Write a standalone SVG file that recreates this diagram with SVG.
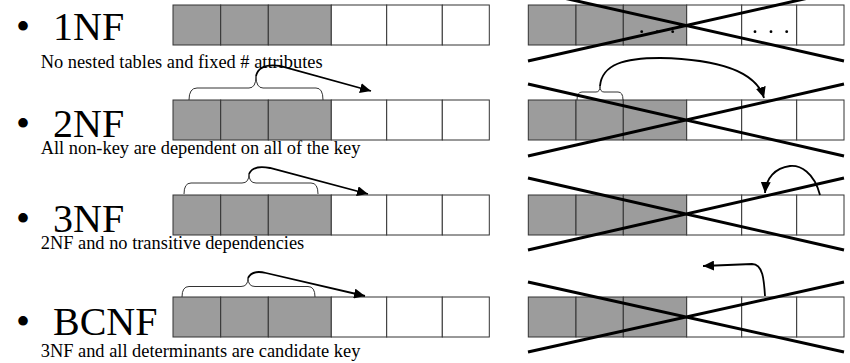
<svg xmlns="http://www.w3.org/2000/svg" width="850" height="363" viewBox="0 0 850 363">
<style>
.t{font-family:"Liberation Serif","Times New Roman",serif;fill:#000}
.big{font-size:40px}
.sub{font-size:18.4px}
.k{fill:#9c9c9c;stroke:#333;stroke-width:1}
.v{fill:#fff;stroke:#333;stroke-width:1}
.x{stroke:#000;stroke-width:3;fill:none}
.br{fill:none;stroke:#333;stroke-width:1}
.ar{fill:none;stroke:#000;stroke-width:1.8}
</style>
<defs>
<marker id="ah" markerUnits="userSpaceOnUse" markerWidth="12" markerHeight="10" refX="11" refY="5" orient="auto">
<path d="M0,0 L11,5 L0,10 z" fill="#000"/>
</marker>
<g id="tblL">
<rect class="k" x="173" y="0" width="47.7" height="40"/>
<rect class="k" x="220.7" y="0" width="47.6" height="40"/>
<rect class="k" x="268.3" y="0" width="63" height="40"/>
<rect class="v" x="331.3" y="0" width="55.4" height="40"/>
<rect class="v" x="386.7" y="0" width="55.6" height="40"/>
<rect class="v" x="442.3" y="0" width="47" height="40"/>
</g>
<g id="tblR">
<rect class="k" x="528.3" y="0" width="47.7" height="40"/>
<rect class="k" x="576" y="0" width="47.3" height="40"/>
<rect class="k" x="623.3" y="0" width="63.4" height="40"/>
<rect class="v" x="686.7" y="0" width="55" height="40"/>
<rect class="v" x="741.7" y="0" width="55" height="40"/>
<rect class="v" x="796.7" y="0" width="47.3" height="40"/>
</g>
</defs>
<rect width="850" height="363" fill="#fff"/>

<g id="row-1nf">
<text class="t big" y="40"><tspan x="16">•</tspan><tspan x="53">1NF</tspan></text>
<text class="t sub" x="40.7" y="68">No nested tables and fixed # attributes</text>
<use href="#tblL" y="5"/>
</g>
<g id="row-2nf">
<text class="t big" y="136.7"><tspan x="16">•</tspan><tspan x="53">2NF</tspan></text>
<text class="t sub" x="40.7" y="154">All non-key are dependent on all of the key</text>
<use href="#tblL" y="100"/>
<path class="br" d="M189,100 Q189,88 197,88 L249,88 Q256,88 256,76 Q256,88 263,88 L316,88 Q323,88 323,100"/>
</g>
<g id="row-3nf">
<text class="t big" y="231.7"><tspan x="16">•</tspan><tspan x="53">3NF</tspan></text>
<text class="t sub" x="40.7" y="248.5">2NF and no transitive dependencies</text>
<use href="#tblL" y="195"/>
<path class="br" d="M184,194 Q184,183 191,183 L242,183 Q249,183 249,174 Q249,183 256,183 L311,183 Q318,183 318,194"/>
</g>
<g id="row-bcnf">
<text class="t big" y="335"><tspan x="16">•</tspan><tspan x="53">BCNF</tspan></text>
<text class="t sub" x="40.7" y="356.5">3NF and all determinants are candidate key</text>
<use href="#tblL" y="297"/>
<path class="br" d="M182,297 Q182,286.5 189,286.5 L241,286.5 Q248,286.5 248,278 Q248,286.5 255,286.5 L308,286.5 Q315,286.5 315,297"/>
</g>

<g id="bad-1">
<use href="#tblR" y="5"/>
<circle cx="641.7" cy="31.7" r="1.4"/>
<circle cx="657.2" cy="31.7" r="1.4"/>
<circle cx="672.7" cy="31.7" r="1.4"/>
<circle cx="755" cy="31.7" r="1.4"/>
<circle cx="771" cy="31.7" r="1.4"/>
<circle cx="786.7" cy="31.7" r="1.4"/>
<path class="x" d="M528,-10 L844,61 M528,61 L844,-10"/>
</g>
<g id="bad-2">
<use href="#tblR" y="100"/>
<path class="br" d="M577,100 Q577,92 582,92 L596,92 Q600,92 600,86 Q600,92 604,92 L618,92 Q623,92 623,100"/>
<path class="x" d="M528,84 L844,156 M528,156 L844,84"/>
</g>
<g id="bad-3">
<use href="#tblR" y="195"/>
<path class="x" d="M528,178 L844,250 M528,250 L844,178"/>
</g>
<g id="bad-4">
<use href="#tblR" y="297"/>
<path class="x" d="M528,282 L844,352 M528,352 L844,282"/>
</g>

<g id="connectors">
<path class="ar" marker-end="url(#ah)" d="M256,76 C258,68 266,64 280,66 L371,91"/>
<path class="ar" marker-end="url(#ah)" d="M249,174 C252,167 260,166 270,168 L368,194"/>
<path class="ar" marker-end="url(#ah)" d="M248,278 C251,272 258,271 266,273 L365,296"/>
<path class="ar" marker-end="url(#ah)" d="M600,86 C602,64 625,58 660,58 C710,59 755,68 764,98"/>
<path class="ar" marker-end="url(#ah)" d="M820,195 C814,172 800,165 790,166 C775,168 766,178 765,193"/>
<path class="ar" marker-end="url(#ah)" d="M765,296 C764,280 763,264 752,264 L703,266"/>
</g>
</svg>
